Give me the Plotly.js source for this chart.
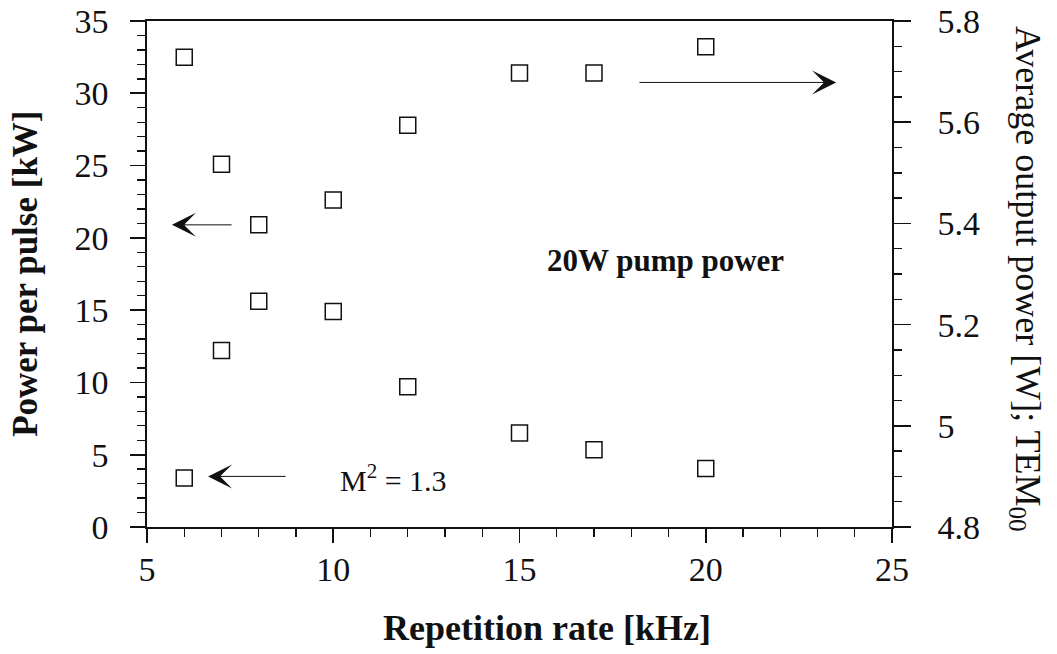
<!DOCTYPE html>
<html>
<head>
<meta charset="utf-8">
<script src="https://cdn.plot.ly/plotly-3.0.1.min.js"></script>
<style>html,body{margin:0;padding:0;background:#fff;}#chart{width:1057px;height:654px;}</style>
</head>
<body>
<div id="chart"></div>
<script>
// Repetition rate [kHz]
const repRate = [6, 7, 8, 10, 12, 15, 17, 20];
// Power per pulse [kW] (left axis)
const powerPerPulse = [32.5, 25.1, 20.9, 14.9, 9.7, 6.5, 5.35, 4.05];
// Average output power [W] (right axis)
const avgPower = [4.897, 5.149, 5.246, 5.446, 5.594, 5.697, 5.697, 5.749];

const xTicks = [5, 10, 15, 20, 25];
const yLeftTicks = [0, 5, 10, 15, 20, 25, 30, 35];
const yRightTicks = [4.8, 5, 5.2, 5.4, 5.6, 5.8];

const SERIF = '"Liberation Serif", "Times New Roman", serif';
const INK = '#111';

const markerStyle = {symbol: 'square-open', size: 16, color: INK, line: {color: INK, width: 1.5}};

const traces = [
  {x: repRate, y: powerPerPulse, type: 'scatter', mode: 'markers', name: 'Power per pulse',
   marker: markerStyle, yaxis: 'y', hoverinfo: 'x+y'},
  {x: repRate, y: avgPower, type: 'scatter', mode: 'markers', name: 'Average output power',
   marker: markerStyle, yaxis: 'y2', hoverinfo: 'x+y'}
];

const axisCommon = {
  showgrid: false, zeroline: false, showline: true, linecolor: INK, linewidth: 1.6,
  ticks: 'outside', tickcolor: INK, tickwidth: 1.6, ticklabeloverflow: 'allow',
  tickfont: {family: SERIF, size: 34, color: INK}
};

const layout = {
  width: 1057, height: 654,
  margin: {l: 147, r: 165, t: 21, b: 127},
  paper_bgcolor: '#fff', plot_bgcolor: '#fff',
  showlegend: false,
  font: {family: SERIF, color: INK},
  xaxis: Object.assign({}, axisCommon, {
    range: [5, 25], tickvals: xTicks, ticklen: 14, mirror: true,
    ticklabelstandoff: -2,
    minor: {dtick: 1, ticklen: 8, ticks: 'outside', tickcolor: INK, tickwidth: 1.4, showgrid: false}
  }),
  yaxis: Object.assign({}, axisCommon, {
    range: [0, 35], tickvals: yLeftTicks, ticklen: 15,
    ticklabelstandoff: 15,
    minor: {dtick: 1, ticklen: 8, ticks: 'outside', tickcolor: INK, tickwidth: 1.4, showgrid: false}
  }),
  yaxis2: Object.assign({}, axisCommon, {
    range: [4.8, 5.8], tickvals: yRightTicks, ticklen: 17, side: 'right', overlaying: 'y',
    ticklabelstandoff: 20,
    minor: {dtick: 0.05, ticklen: 8, ticks: 'outside', tickcolor: INK, tickwidth: 1.4, showgrid: false}
  }),
  annotations: [
    {text: '<b>Repetition rate [kHz]</b>', xref: 'paper', yref: 'paper', x: 0.537, y: -0.2,
     showarrow: false, font: {family: SERIF, size: 36, color: INK}, xanchor: 'center', yanchor: 'middle'},
    {text: '<b>Power per pulse [kW]</b>', xref: 'paper', yref: 'paper', x: -0.164, y: 0.5,
     showarrow: false, textangle: -90, font: {family: SERIF, size: 35, color: INK}, xanchor: 'center', yanchor: 'middle'},
    {text: 'Average output power [W]; TEM<sub>00</sub>', xref: 'paper', yref: 'paper', x: 1.18, y: 0.49,
     showarrow: false, textangle: 90, font: {family: SERIF, size: 36, color: INK}, xanchor: 'center', yanchor: 'middle'},
    {text: '<b>20W pump power</b>', xref: 'x', yref: 'y', x: 18.93, y: 18.46,
     showarrow: false, font: {family: SERIF, size: 31, color: INK}},
    {text: 'M<sup>2</sup> = 1.3', xref: 'x', yref: 'y', x: 11.63, y: 3.36,
     showarrow: false, font: {family: SERIF, size: 30, color: INK}},
    // arrows
    {xref: 'x', yref: 'y', axref: 'x', ayref: 'y', x: 5.67, y: 20.9, ax: 7.31, ay: 20.9, text: '',
     showarrow: true, arrowhead: 3, arrowsize: 4, arrowwidth: 1, arrowcolor: INK},
    {xref: 'x', yref: 'y', axref: 'x', ayref: 'y', x: 6.64, y: 3.5, ax: 8.76, ay: 3.5, text: '',
     showarrow: true, arrowhead: 3, arrowsize: 4, arrowwidth: 1, arrowcolor: INK},
    {xref: 'x', yref: 'y', axref: 'x', ayref: 'y', x: 23.5, y: 30.75, ax: 18.18, ay: 30.75, text: '',
     showarrow: true, arrowhead: 3, arrowsize: 4, arrowwidth: 1, arrowcolor: INK}
  ]
};

Plotly.newPlot('chart', traces, layout, {displayModeBar: false, staticPlot: true});
</script>
</body>
</html>
